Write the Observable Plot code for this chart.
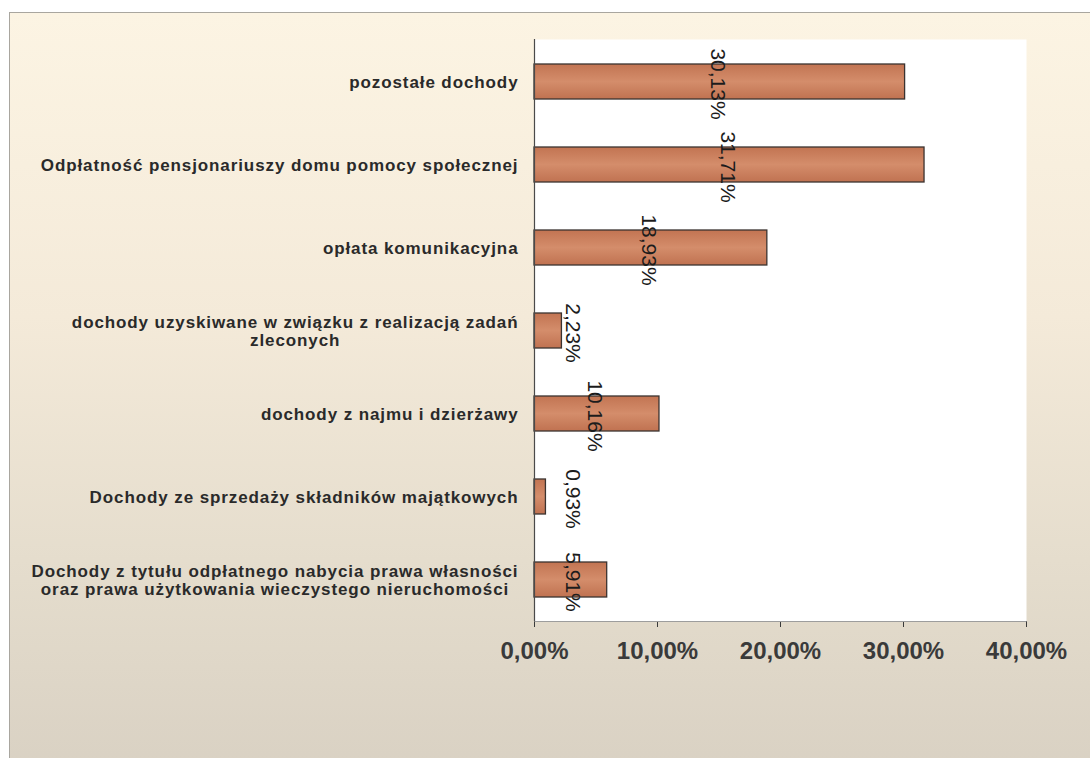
<!DOCTYPE html>
<html>
<head>
<meta charset="utf-8">
<script src="https://cdn.jsdelivr.net/npm/d3@7"></script>
<script src="https://cdn.jsdelivr.net/npm/@observablehq/plot@0.6"></script>
<style>
  html, body { margin: 0; padding: 0; background: #ffffff; width: 1090px; height: 758px; overflow: hidden; }
  #bg {
    position: absolute; left: 9px; top: 12px; width: 1090px; height: 760px;
    border-left: 1px solid #a9a69f; border-top: 1px solid #a9a69f;
    background: linear-gradient(to bottom, #fcf4e3 0%, #f4ead9 40%, #e5ddcd 72%, #d9d1c3 100%);
  }
  #chart { position: absolute; left: 0; top: 0; }
</style>
</head>
<body>
<div id="bg"></div>
<div id="chart"></div>
<script>
const categories = [
  "pozostałe dochody",
  "Odpłatność pensjonariuszy domu pomocy społecznej",
  "opłata komunikacyjna",
  "dochody uzyskiwane w związku z realizacją zadań\nzleconych",
  "dochody z najmu i dzierżawy",
  "Dochody ze sprzedaży składników majątkowych",
  "Dochody z tytułu odpłatnego nabycia prawa własności\noraz prawa użytkowania wieczystego nieruchomości"
];
const values = [30.13, 31.71, 18.93, 2.23, 10.16, 0.93, 5.91];
const tickValues = [0, 10, 20, 30, 40];

const fmt = v => v.toFixed(2).replace(".", ",") + "%";
const data = categories.map((c, i) => ({category: c, value: values[i], label: fmt(values[i])}));

const chart = Plot.plot({
  width: 1090,
  height: 758,
  marginLeft: 534,
  marginRight: 64,
  marginTop: 39,
  marginBottom: 137,
  style: {
    background: "transparent",
    fontFamily: "'Liberation Sans', Arial, sans-serif",
    fontSize: "24px",
    fontWeight: "bold",
    color: "#3a3a3a"
  },
  x: {
    domain: [0, 40],
    ticks: tickValues,
    tickFormat: fmt,
    tickSize: 6,
    tickPadding: 14,
    line: true,
    label: null
  },
  y: {
    domain: categories,
    paddingInner: 0.58,
    paddingOuter: 0.29,
    axis: null
  },
  marks: [
    Plot.frame({fill: "white", stroke: null}),
    Plot.barX(data, {x: "value", y: "category", fill: "url(#barGrad)", stroke: "#3b3330", strokeWidth: 1.3}),
    Plot.ruleX([0], {stroke: "#4a4a4a", strokeWidth: 1.2}),
    Plot.text(data, {
      x: d => Math.max(d.value / 2, 3.3),
      y: "category",
      text: "label",
      rotate: 90,
      fontSize: 21,
      fontWeight: "normal",
      fill: "#1c1c1c",
      dx: -2,
      dy: 2
    }),
    Plot.text(data, {
      y: "category",
      frameAnchor: "left",
      dx: -16,
      textAnchor: "end",
      text: "category",
      fontSize: 17,
      fontWeight: "bold",
      lineHeight: 1.05,
      fill: "#2a2a2a"
    })
  ]
});

document.getElementById("chart").appendChild(chart);

// gradient for bars
const svgNS = "http://www.w3.org/2000/svg";
const defs = document.createElementNS(svgNS, "defs");
defs.innerHTML = `<linearGradient id="barGrad" x1="0" y1="0" x2="0" y2="1">
  <stop offset="0%" stop-color="#c27452"/>
  <stop offset="50%" stop-color="#d48d6b"/>
  <stop offset="100%" stop-color="#c07251"/>
</linearGradient>`;
chart.insertBefore(defs, chart.firstChild);

// letter spacing for category labels, then center multi-line ones like the original
chart.querySelectorAll("text").forEach(t => {
  if (t.getAttribute("font-size") === "17" || t.closest("g[font-size='17']")) {
    t.style.letterSpacing = "0.9px";
  }
});
chart.querySelectorAll("text").forEach(t => {
  const spans = t.querySelectorAll("tspan");
  if (spans.length > 1) {
    const w = t.getBBox().width;
    t.setAttribute("text-anchor", "middle");
    spans.forEach(s => {
      const x0 = +(s.getAttribute("x") || 0);
      s.setAttribute("x", x0 - w / 2);
    });
  }
});
</script>
</body>
</html>
